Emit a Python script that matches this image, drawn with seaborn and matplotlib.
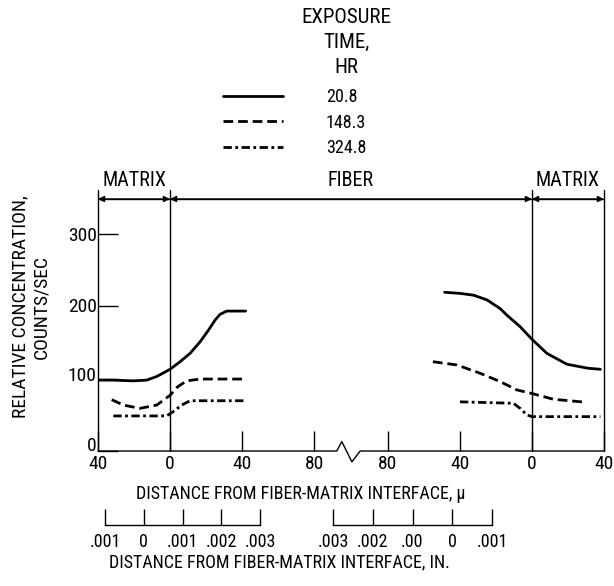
import numpy as np
import pandas as pd
import matplotlib.pyplot as plt
from matplotlib.lines import Line2D
from matplotlib.transforms import ScaledTranslation
import seaborn as sns

sns.set_theme(style='white')
plt.rcParams['font.family'] = ['Roboto Condensed', 'DejaVu Sans']
plt.rcParams['lines.scale_dashes'] = False
for k in ['text.color', 'axes.labelcolor', 'xtick.color', 'ytick.color']:
    plt.rcParams[k] = 'black'

# exposure times, hr
times = ['20.8', '148.3', '324.8']

# left interface: distance in microns, matrix negative, fiber positive
left_solid_x = [-40, -31.5, -20.4, -13, -7.4, 0, 5.6, 11.1, 16.7, 21.3, 25, 27.8, 31.5, 42]
left_solid_y = [98, 98, 97, 98, 103, 113, 123.5, 135, 151, 167, 181, 189, 193.5, 193.5]
left_dash_x = [-32.4, -25.9, -16.7, -7.4, 0, 4.3, 9.3, 16.7, 40]
left_dash_y = [71, 63.5, 59, 63.5, 77, 89, 97, 99.5, 99.5]
left_dd_x = [-31.5, -1.9, 1.8, 6.5, 11.1, 42]
left_dd_y = [48.5, 48.5, 54.5, 63.5, 69.5, 69.5]

# right interface: fiber negative, matrix positive
right_solid_x = [-48.5, -40, -32.5, -25, -17.7, -14, -6.6, 0, 8.3, 19.4, 31, 38]
right_solid_y = [219.5, 218, 215.5, 209, 197, 188, 172, 154.5, 135, 120, 114.5, 113]
right_dash_x = [-55, -41.7, -28.8, -17.7, -8.4, 0, 12, 29.6]
right_dash_y = [123.5, 119, 107.5, 96, 84.5, 79.5, 71.5, 67.5]
right_dd_x = [-40, -10.3, -6.6, -2.9, 0, 38]
right_dd_y = [68, 66, 59, 50, 47.5, 47.5]

x_tick_dist = [40, 0, 40, 80, 80, 40, 0, 40]
y_ticks = [0, 100, 200, 300]
in_left_ticks = [-0.001, 0, 0.001, 0.002, 0.003]
in_left_labels = ['.001', '0', '.001', '.002', '.003']
in_right_ticks = [-0.003, -0.002, -0.001, 0, 0.001]
in_right_labels = ['.003', '.002', '.00', '0', '.001']

# layout of the broken axis
x0, x1 = -40, 241
r_off = 201          # position of the right interface
top = 348.5
brk = 96

rows = []
for panel, off, series in [
    ('L', 0, [(left_solid_x, left_solid_y), (left_dash_x, left_dash_y), (left_dd_x, left_dd_y)]),
    ('R', r_off, [(right_solid_x, right_solid_y), (right_dash_x, right_dash_y), (right_dd_x, right_dd_y)]),
]:
    for t, (xs, ys) in zip(times, series):
        for xv, yv in zip(xs, ys):
            rows.append({'pos': xv + off, 'conc': yv, 'time': t, 'panel': panel})
df = pd.DataFrame(rows)

dash_map = {'20.8': '', '148.3': (7, 3.5), '324.8': (6, 2.5, 2, 2.5)}

fig = plt.figure(figsize=(6.14, 5.86), dpi=100)
ax = fig.add_axes([98 / 614, 1 - 451 / 586, 506 / 614, 252 / 586])
ax.patch.set_visible(False)

sns.lineplot(data=df, x='pos', y='conc', style='time', units='panel', estimator=None,
             sort=False, color='black', dashes=dash_map, linewidth=2, legend=False, ax=ax)

ax.set_xlim(x0, x1)
ax.set_ylim(0, top)
for s in ax.spines.values():
    s.set_visible(False)

lk = dict(color='black', lw=1, clip_on=False)
for xv in [x0, 0, r_off, x1]:
    ax.plot([xv, xv], [0, top + 12], **lk)
ax.plot([x0, x1], [top, top], **lk)
ax.plot([x0, brk - 3.4, brk - 0.6, brk + 5, brk + 9.6, x1], [0, 0, 13, -15, 0, 0], **lk)

# dimension arrows along the top
regions = [(x0, 0, 'MATRIX'), (0, r_off, 'FIBER'), (r_off, x1, 'MATRIX')]
for a, b, name in regions:
    ax.annotate('', xy=(a, top), xytext=(b, top),
                arrowprops=dict(arrowstyle='<|-|>', color='black', lw=1,
                                mutation_scale=9, shrinkA=0, shrinkB=0))
    ax.text((a + b) / 2, top + 25, name, ha='center', va='center', fontsize=14.5)

x_tick_pos = [-x_tick_dist[0]] + x_tick_dist[1:4] + [r_off - d for d in x_tick_dist[4:7]] + [r_off + x_tick_dist[7]]
ax.set_xticks(x_tick_pos, [str(d) for d in x_tick_dist])
ax.tick_params(axis='x', direction='in', length=14.4, width=1, pad=3, labelsize=14, bottom=True)
ax.set_yticks(y_ticks, [str(v) for v in y_ticks])
ax.tick_params(axis='y', direction='in', length=14.4, width=1, pad=1, labelsize=14, left=True)
for lab, up in zip(ax.get_yticklabels(), [7, 5, 1, 0]):
    lab.set_transform(lab.get_transform() + ScaledTranslation(0, up / 100, fig.dpi_scale_trans))
ax.set_xlabel('')
ax.set_ylabel('')

# inch scales
for bounds, ticks, labels in [((105, 155), in_left_ticks, in_left_labels),
                              ((333, 159), in_right_ticks, in_right_labels)]:
    a2 = fig.add_axes([bounds[0] / 614, 1 - 525 / 586, bounds[1] / 614, 0.02])
    a2.patch.set_visible(False)
    a2.set_xlim(ticks[0], ticks[-1])
    a2.set_yticks([])
    for nm, s in a2.spines.items():
        s.set_visible(nm == 'bottom')
    a2.spines['bottom'].set_color('black')
    a2.spines['bottom'].set_linewidth(1)
    a2.set_xticks(ticks, labels)
    a2.tick_params(axis='x', direction='in', length=11.5, width=1, pad=6, labelsize=13, bottom=True)

# legend
handles = [Line2D([], [], color='black', lw=2, linestyle='-')]
for t in times[1:]:
    h = Line2D([], [], color='black', lw=2)
    h.set_dashes(dash_map[t])
    handles.append(h)
fig.legend(handles, times, loc='upper left', bbox_to_anchor=(223 / 614, 1 - 88 / 586),
           frameon=False, fontsize=13, handlelength=3.3, handletextpad=2.4,
           labelspacing=0.42, borderpad=0, borderaxespad=0)
fig.text(346 / 614, 1 - 8 / 586, 'EXPOSURE\nTIME,\nHR', ha='center', va='top',
         fontsize=15, linespacing=1.4)

fig.text(31 / 614, 1 - 307 / 586, 'RELATIVE CONCENTRATION,\nCOUNTS/SEC', rotation=90,
         ha='center', va='center', fontsize=14, multialignment='center', linespacing=1.2)
fig.text(301 / 614, 1 - 494 / 586, 'DISTANCE FROM FIBER-MATRIX INTERFACE, µ',
         ha='center', va='center', fontsize=13)
fig.text(279 / 614, 1 - 562 / 586, 'DISTANCE FROM FIBER-MATRIX INTERFACE, IN.',
         ha='center', va='center', fontsize=13)

fig.savefig('out.png', dpi=100)
